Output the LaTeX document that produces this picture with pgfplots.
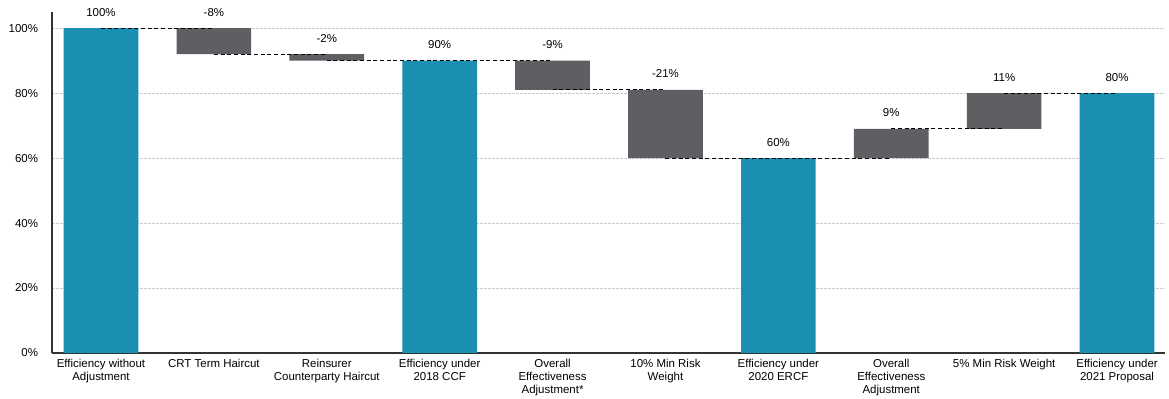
\documentclass[border=0pt]{standalone}
\usepackage{pgfplots}
\pgfplotsset{compat=1.18}
\usepackage{fontspec}
\setmainfont{Liberation Sans}
\definecolor{teal1}{HTML}{1A8FB2}
\definecolor{gray1}{HTML}{5E5F63}
\definecolor{gridg}{HTML}{CCCCCC}
\begin{document}
\begin{tikzpicture}
\useasboundingbox (-39pt,-34.5pt) rectangle (837.75pt,264.75pt);
\pgfplotsset{
  common/.style={
    scale only axis, width=834.75pt, height=255.75pt,
    xmin=-0.434, xmax=9.425, ymin=0, ymax=105,
    at={(0pt,0pt)}, anchor=south west,
  }
}
\begin{axis}[
  common,
  ybar stacked, bar width=56pt,
  axis x line*=bottom, axis y line*=left,
  axis line style={-, line width=0.8pt, color=black!80},
  xtick={0,...,9}, major tick length=0pt,
  xticklabels={Efficiency without\\Adjustment, CRT Term Haircut, Reinsurer\\Counterparty Haircut, Efficiency under\\2018 CCF, Overall\\Effectiveness\\Adjustment*, 10\% Min Risk\\Weight, Efficiency under\\2020 ERCF, Overall\\Effectiveness\\Adjustment, 5\% Min Risk Weight, Efficiency under\\2021 Proposal},
  xticklabel style={font=\fontsize{8.6}{9.8}\selectfont, align=center, anchor=north, yshift=-1pt},
  ytick={0,20,40,60,80,100},
  yticklabels={0\%,20\%,40\%,60\%,80\%,100\%},
  yticklabel style={font=\fontsize{8.6}{9.8}\selectfont, xshift=-7pt},
  ymajorgrids, grid style={gridg, dash pattern=on 2pt off 1pt, line width=0.6pt},
]
\addplot[draw=none, fill=none] coordinates {(0,0) (1,92) (2,90) (3,0) (4,81) (5,60) (6,0) (7,60) (8,69) (9,0)};
\addplot[draw=none, fill=teal1] coordinates {(0,100) (1,0) (2,0) (3,90) (4,0) (5,0) (6,60) (7,0) (8,0) (9,80)};
\addplot[draw=none, fill=gray1] coordinates {(0,0) (1,8) (2,2) (3,0) (4,9) (5,21) (6,0) (7,9) (8,11) (9,0)};
\end{axis}
\begin{axis}[
  common, hide axis, clip=false, unbounded coords=jump,
]
\addplot[black, line width=0.8pt, dash pattern=on 3pt off 2pt] coordinates {
(0,100) (1,100) (1,nan) (1,92) (2,92) (2,nan) (2,90) (3,90) (3,nan) (3,90) (4,90) (4,nan)
(4,81) (5,81) (5,nan) (5,60) (6,60) (6,nan) (6,60) (7,60) (7,nan) (7,69) (8,69) (8,nan) (8,80) (9,80)};
\addplot[draw=none, mark=none, nodes near coords, point meta=explicit symbolic,
  every node near coord/.style={font=\fontsize{8.6}{9.8}\selectfont, anchor=base, yshift=9pt}]
  coordinates {(0,100) [100\%] (1,100) [-8\%] (2,92) [-2\%] (3,90) [90\%] (4,90) [-9\%]
  (5,81) [-21\%] (6,60) [60\%] (7,69) [9\%] (8,80) [11\%] (9,80) [80\%]};
\end{axis}
\end{tikzpicture}
\end{document}
